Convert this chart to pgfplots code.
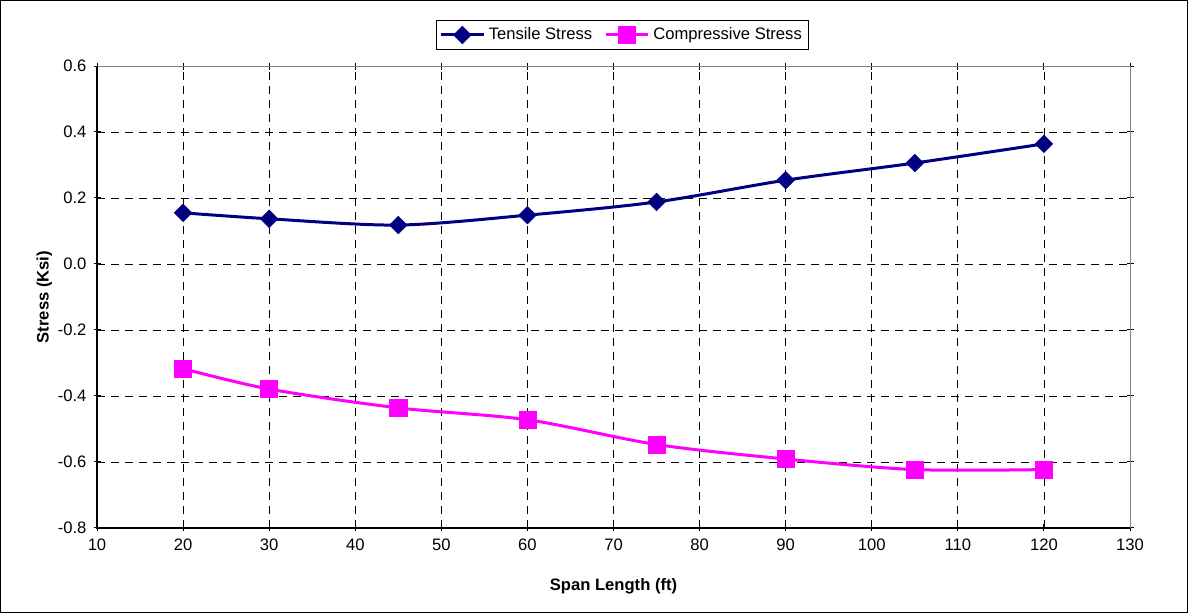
\documentclass[border=0pt]{standalone}
\usepackage{pgfplots}
\pgfplotsset{compat=1.18}
\usepackage{fontspec}
\setmainfont{Liberation Sans}
\definecolor{tens}{RGB}{0,0,128}
\definecolor{comp}{RGB}{255,0,255}
\begin{document}
\begin{tikzpicture}
\draw[black,line width=0.6pt] (0.3pt,0.3pt) rectangle (593.7pt,306.2pt);
\begin{axis}[
  at={(48.5pt,42.5pt)}, anchor=south west,
  scale only axis, width=516.5pt, height=231pt,
  xmin=10, xmax=130, ymin=-0.8, ymax=0.6,
  xtick={10,20,...,130}, ytick={-0.8,-0.6,...,0.6},
  font=\fontsize{8.3pt}{10pt}\selectfont,
  /pgf/number format/assume math mode=true,
  yticklabel style={/pgf/number format/.cd, fixed, fixed zerofill, precision=1},
  xticklabel style={/pgf/number format/.cd, fixed, precision=0},
  grid=major,
  major grid style={black, line width=0.4pt, dash pattern=on 4pt off 3pt},
  axis line style={draw=gray, line width=0.5pt},
  tick align=center, major tick length=3.5pt,
  tick style={black, line width=0.5pt},
  xlabel={\bfseries Span Length (ft)},
  ylabel={\bfseries Stress (Ksi)},
  xlabel style={yshift=-7pt},
  ylabel style={yshift=-4pt},
  legend columns=2,
  legend style={at={(rel axis cs:0.509,1.0)}, anchor=south, yshift=8pt,
    draw=black, line width=0.5pt, font=\fontsize{8.3pt}{10pt}\selectfont,
    inner sep=1.5pt, /tikz/every even column/.append style={column sep=4pt}},
  legend image code/.code={\draw[#1, mark repeat=2, mark phase=2] plot coordinates {(0cm,0cm) (0.37cm,0cm) (0.74cm,0cm)};},
  clip=false,
]
\addplot[tens, line width=1.5pt, smooth, mark=square*, mark size=3.1pt, mark options={solid, rotate=45, line width=0.3pt}]
  coordinates {(20,0.155) (30,0.137) (45,0.118) (60,0.148) (75,0.188) (90,0.254) (105,0.306) (120,0.364)};
\addlegendentry{Tensile Stress}
\addplot[comp, line width=1.5pt, smooth, mark=square*, mark size=4.3pt, mark options={solid, line width=0.3pt}]
  coordinates {(20,-0.317) (30,-0.379) (45,-0.436) (60,-0.472) (75,-0.547) (90,-0.591) (105,-0.623) (120,-0.623)};
\addlegendentry{Compressive Stress}
\draw[black, line width=0.6pt] (rel axis cs:0,1) -- (rel axis cs:0,0) -- (rel axis cs:1,0);
\end{axis}
\end{tikzpicture}
\end{document}
